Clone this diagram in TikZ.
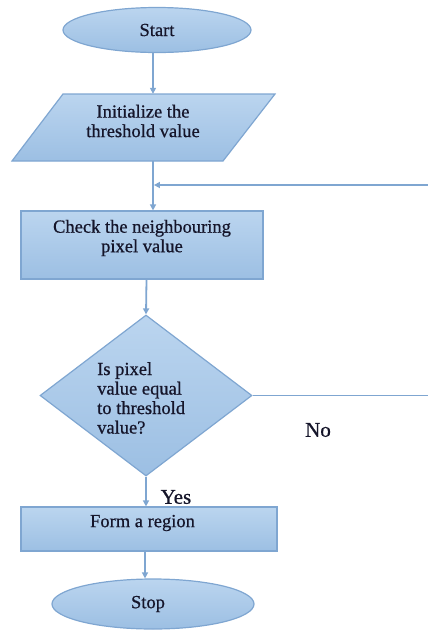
\documentclass[tikz,border=0pt]{standalone}
\usepackage{fontspec}
\setmainfont{Liberation Serif}[FakeBold=0.7]
\usetikzlibrary{shapes.geometric,arrows.meta}
\definecolor{boxtop}{HTML}{BBD5EF}
\definecolor{boxbot}{HTML}{9CBFE3}
\definecolor{edgecol}{HTML}{7FA6D1}
\definecolor{txt}{HTML}{15152A}
\tikzset{
 shapebase/.style={draw=edgecol, line width=1.2pt, top color=boxtop, bottom color=boxbot, inner sep=0pt},
 term/.style={shapebase, ellipse},
 proc/.style={shapebase, rectangle},
 dec/.style={shapebase, diamond},
 lbl/.style={font=\fontsize{18.5}{19.5}\selectfont, text=txt, align=center, inner sep=0pt},
 side/.style={font=\fontsize{21}{22}\selectfont, text=txt, inner sep=0pt},
 flow/.style={draw=edgecol, line width=1.8pt, -{Triangle[width=6pt,length=6pt]}},
 plainline/.style={draw=edgecol, line width=1.8pt},
}
\begin{document}
\begin{tikzpicture}[x=1pt,y=-1pt]
\useasboundingbox (0,0) rectangle (428,630);
% columns
\coordinate (c1) at (153,0);
\coordinate (c2) at (146.5,0);
\coordinate (c3) at (145,0);
\coordinate (fb) at (428,185);
\coordinate (nx) at (428,395);
% shapes
\node[term, minimum width=188pt, minimum height=45pt] (start) at (157,30) {};
\node[lbl] (starttxt) at (157,30) {Start};
\shade[shapebase] (63,94) -- (275,94) -- (223,161) -- (12,161) -- cycle;
\node[inner sep=0pt, minimum width=212pt, minimum height=67pt] (init) at (143.5,127.5) {};
\node[lbl] (inittxt) at (143,121) {Initialize the\\threshold value};
\node[proc, minimum width=242pt, minimum height=68pt] (check) at (142,245) {};
\node[lbl] (checktxt) at (142,238) {Check the neighbouring\\pixel value};
\node[dec, minimum width=212pt, minimum height=161pt] (dec) at (146,395.5) {};
\node[lbl, align=left, anchor=west] (dectxt) at (97,398) {Is pixel\\value equal\\to threshold\\value?};
\node[proc, minimum width=256pt, minimum height=44pt] (form) at (149,529) {};
\node[lbl] (formtxt) at (142.5,523) {Form a region};
\node[term, minimum width=202pt, minimum height=50pt] (stop) at (153,604) {};
\node[lbl] (stoptxt) at (148,604) {Stop};
\node[side] (no) at (318,430) {No};
\node[side] (yes) at (176,497) {Yes};
% connectors
\draw[flow] (start.south -| c1) -- (init.north -| c1);
\draw[flow] (init.south -| c1) -- (check.north -| c1);
\draw[flow] (fb) -- ([xshift=0.9pt]fb -| c1);
\draw[flow] (check.south -| c2) -- (dec.north);
\draw[plainline] (dec.east) -- (dec.east -| nx);
\draw[flow] (dec.south) -- (form.north -| dec.south);
\draw[flow] (form.south -| c3) -- (stop.north -| c3);
\end{tikzpicture}
\end{document}
